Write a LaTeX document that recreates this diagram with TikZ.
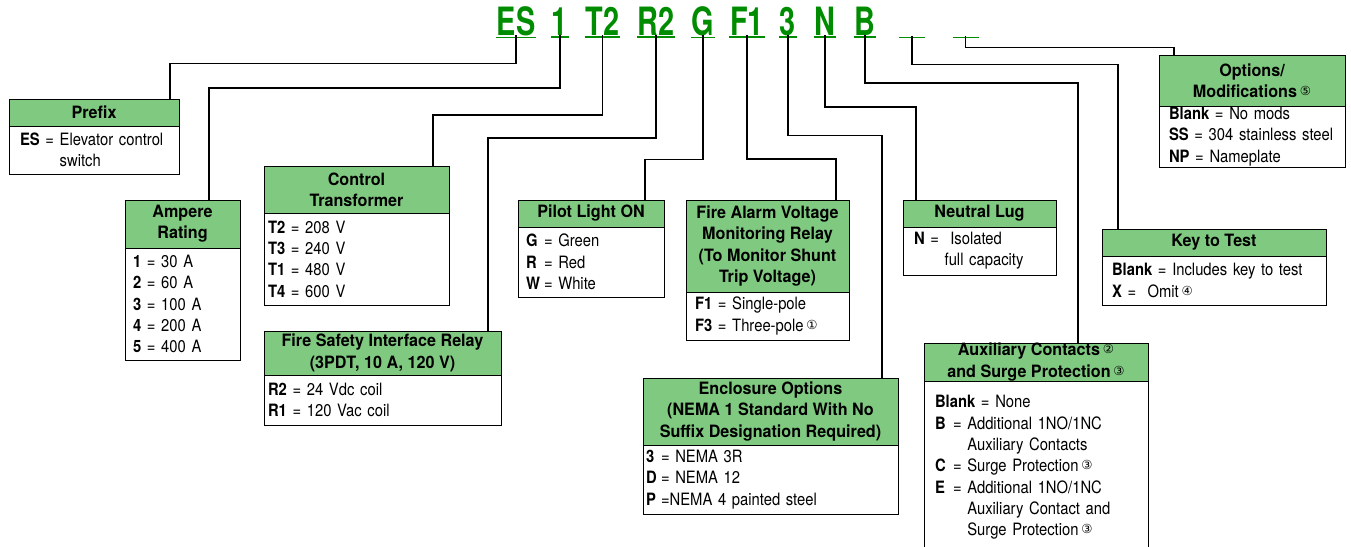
\documentclass[tikz,border=0pt]{standalone}
\usepackage{fontspec}
\setmainfont{TeX Gyre Heros}[FakeStretch=0.87]
\newfontfamily\hdrfont{TeX Gyre Heros}[FakeStretch=0.95]
\newfontfamily\codefont{TeX Gyre Heros}[FakeStretch=0.74]
\newfontfamily\dejavu{DejaVu Sans}
\usepackage{tikz}
\usetikzlibrary{positioning}
\definecolor{codegreen}{RGB}{0,140,0}
\definecolor{hdrgreen}{RGB}{128,201,128}
\newcommand\bodysize{\fontsize{17}{21.3}\selectfont}
\newcommand\cnum[1]{\,{\dejavu\mdseries\fontsize{12.5}{12.5}\selectfont\raisebox{2pt}{#1}}}
\tikzset{
  codeletter/.style={font=\codefont\bfseries\fontsize{39}{39}\selectfont, text=codegreen,
                     inner sep=0pt, outer sep=0pt, anchor=base},
  codeblank/.style ={minimum width=24pt, inner sep=0pt, outer sep=0pt, anchor=base},
  uline/.style     ={draw=codegreen, line width=1.8pt},
  hdr/.style       ={rectangle, draw, line width=1pt, fill=hdrgreen, align=center,
                     font=\hdrfont\bfseries\bodysize, inner sep=0pt, outer sep=0pt, anchor=north west},
  body/.style      ={rectangle, draw, line width=1pt, fill=white, align=left,
                     font=\bodysize, inner ysep=0pt, outer sep=0pt},
  link/.style      ={draw=black, line width=1.3pt}
}
\begin{document}
\begin{tikzpicture}[x=1pt, y=-1pt]
  \useasboundingbox (0,0) rectangle (1351,546);
  \clip (0,0) rectangle (1351,546);

  % catalog number
  \node[codeletter] (es) at (516,35) {ES};
  \node[codeletter] (amp) at (560,35) {1};
  \node[codeletter] (xfm) at (602.5,35) {T2};
  \node[codeletter] (rly) at (656,35) {R2};
  \node[codeletter] (plt) at (703,35) {G};
  \node[codeletter] (alm) at (747,35) {F1};
  \node[codeletter] (encl) at (788,35) {3};
  \node[codeletter] (lug) at (825,35) {N};
  \node[codeletter] (auxc) at (865,35) {B};
  \node[codeblank] (keyt) at (912,35) {};
  \node[codeblank] (mods) at (965.5,35) {};
  \foreach \n in {es,amp,xfm,rly,plt,alm,encl,lug,auxc,keyt,mods}
    \draw[uline] ([xshift=-1pt,yshift=-2pt]\n.south west) -- ([xshift=1pt,yshift=-2pt]\n.south east);

  % boxes
  \node[hdr, minimum width=170pt, minimum height=27pt] (pfxh) at (9,99) {Prefix};
  \node[body, text width=148pt, inner xsep=11pt, minimum height=48pt, below=0pt of pfxh.south west, anchor=north west] (pfxb)
    {\textbf{ES} = Elevator control\\\hphantom{\textbf{ES} = }switch};

  \node[hdr, minimum width=115pt, minimum height=48pt] (amph) at (125,200) {Ampere\\Rating};
  \node[body, text width=99pt, inner xsep=8pt, minimum height=112pt, below=0pt of amph.south west, anchor=north west] (ampb)
    {\textbf{1} = 30 A\\\textbf{2} = 60 A\\\textbf{3} = 100 A\\\textbf{4} = 200 A\\\textbf{5} = 400 A};

  \node[hdr, minimum width=185pt, minimum height=47pt] (xfmh) at (264,166) {Control\\Transformer};
  \node[body, text width=177pt, inner xsep=4pt, minimum height=92pt, below=0pt of xfmh.south west, anchor=north west] (xfmb)
    {\textbf{T2} = 208 V\\\textbf{T3} = 240 V\\\textbf{T1} = 480 V\\\textbf{T4} = 600 V};

  \node[hdr, minimum width=237pt, minimum height=44pt] (rlyh) at (264,331) {Fire Safety Interface Relay\\(3PDT, 10 A, 120 V)};
  \node[body, text width=229pt, inner xsep=4pt, minimum height=50pt, below=0pt of rlyh.south west, anchor=north west] (rlyb)
    {\textbf{R2} = 24 Vdc coil\\\textbf{R1} = 120 Vac coil};

  \node[hdr, minimum width=146pt, minimum height=27pt] (plth) at (518,200) {Pilot Light ON};
  \node[body, text width=130pt, inner xsep=8pt, minimum height=70pt, below=0pt of plth.south west, anchor=north west] (pltb)
    {\makebox[18pt][l]{\textbf{G}}= Green\\\makebox[18pt][l]{\textbf{R}}= Red\\\makebox[18pt][l]{\textbf{W}}= White};

  \node[hdr, minimum width=163pt, minimum height=92pt] (almh) at (686,200) {Fire Alarm Voltage\\Monitoring Relay\\(To Monitor Shunt\\Trip Voltage)};
  \node[body, text width=145pt, inner xsep=9pt, minimum height=48pt, below=0pt of almh.south west, anchor=north west] (almb)
    {\textbf{F1} = Single-pole\\\textbf{F3} = Three-pole\cnum{①}};

  \node[hdr, minimum width=255pt, minimum height=67pt] (enclh) at (643,378) {Enclosure Options\\(NEMA 1 Standard With No\\Suffix Designation Required)};
  \node[body, text width=249pt, inner xsep=3pt, minimum height=69pt, below=0pt of enclh.south west, anchor=north west] (enclb)
    {\makebox[15pt][l]{\textbf{3}}= NEMA 3R\\\makebox[15pt][l]{\textbf{D}}= NEMA 12\\\makebox[15pt][l]{\textbf{P}}=NEMA 4 painted steel};

  \node[hdr, minimum width=153pt, minimum height=27pt] (lugh) at (903,200) {Neutral Lug};
  \node[body, text width=131pt, inner xsep=11pt, minimum height=48pt, below=0pt of lugh.south west, anchor=north west] (lugb)
    {\textbf{N} = \ Isolated\\\hphantom{\textbf{N} = }full capacity};

  \node[hdr, minimum width=224pt, minimum height=38pt] (auxch) at (924,343) {Auxiliary Contacts\cnum{②}\\and Surge Protection\cnum{③}};
  \node[body, text width=202pt, inner xsep=11pt, minimum height=173pt, below=0pt of auxch.south west, anchor=north west] (auxcb)
    {\textbf{Blank} = None\\
     \makebox[18pt][l]{\textbf{B}}= Additional 1NO/1NC\\\hphantom{\makebox[18pt][l]{\textbf{B}}= }Auxiliary Contacts\\
     \makebox[18pt][l]{\textbf{C}}= Surge Protection\cnum{③}\\
     \makebox[18pt][l]{\textbf{E}}= Additional 1NO/1NC\\\hphantom{\makebox[18pt][l]{\textbf{E}}= }Auxiliary Contact and\\
     \hphantom{\makebox[18pt][l]{\textbf{E}}= }Surge Protection\cnum{③}};

  \node[hdr, minimum width=224pt, minimum height=27pt] (keyth) at (1102,229) {Key to Test};
  \node[body, text width=204pt, inner xsep=10pt, minimum height=49pt, below=0pt of keyth.south west, anchor=north west] (keytb)
    {\textbf{Blank} = Includes key to test\\\textbf{X} = \ Omit\cnum{④}};

  \node[hdr, minimum width=186pt, minimum height=51pt] (modsh) at (1159,55) {Options/\\Modifications\cnum{⑤}};
  \node[body, text width=166pt, inner xsep=10pt, minimum height=61pt, below=0pt of modsh.south west, anchor=north west] (modsb)
    {\textbf{Blank} = No mods\\\textbf{SS} = 304 stainless steel\\\textbf{NP} = Nameplate};

  % leaders
  \draw[link] (es.south) -- ++(0,28) -| ([xshift=-9pt]pfxh.north east);
  \draw[link] (amp.south) -- ++(0,53) -| ([xshift=-31pt]amph.north east);
  \draw[link] (xfm.south) -- ++(0,80) -| ([xshift=-16pt]xfmh.north east);
  \draw[link] (rly.south) -- ++(0,103) -| ([xshift=-13pt]rlyh.north east);
  \draw[link] (plt.south) -- ++(0,124) -| ([xshift=-19pt]plth.north east);
  \draw[link] (alm.south) -- ++(0,124) -| ([xshift=-13pt]almh.north east);
  \draw[link] (encl.south) -- ++(0,100) -| ([xshift=-16pt]enclh.north east);
  \draw[link] (lug.south) -- ++(0,72) -| ([xshift=13pt]lugh.north west);
  \draw[link] (auxc.south) -- ++(0,48) -| ([xshift=154pt]auxch.north west);
  \draw[link] (keyt.south) -- ++(0,29) -| ([xshift=16pt]keyth.north west);
  \draw[link] (mods.south) -- ++(0,12) -| ([xshift=15pt]modsh.north west);
\end{tikzpicture}
\end{document}
